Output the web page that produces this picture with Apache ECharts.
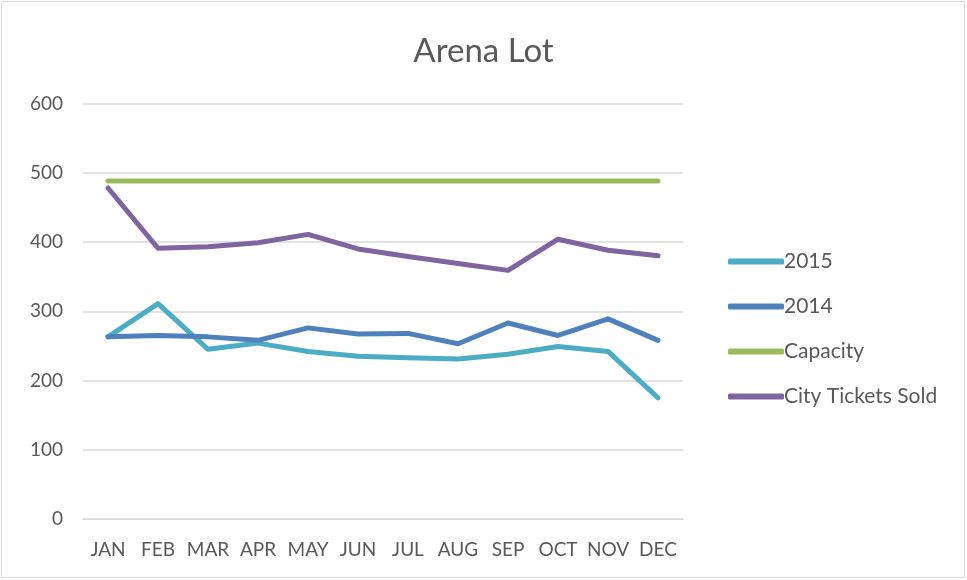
<!DOCTYPE html>
<html>
<head>
<meta charset="utf-8">
<script src="https://cdn.jsdelivr.net/npm/echarts@6/dist/echarts.min.js"></script>
<style>
  html, body { margin: 0; padding: 0; background: #fff; }
  #chart { width: 967px; height: 580px; }
</style>
</head>
<body>
<div id="chart"></div>
<script>
var months = ['JAN', 'FEB', 'MAR', 'APR', 'MAY', 'JUN', 'JUL', 'AUG', 'SEP', 'OCT', 'NOV', 'DEC'];
var sales2015 = [263, 311, 245, 254, 242, 235, 233, 231, 238, 249, 242, 175];
var sales2014 = [263, 265, 263, 258, 276, 267, 268, 253, 283, 265, 289, 258];
var capacity = [488, 488, 488, 488, 488, 488, 488, 488, 488, 488, 488, 488];
var cityTickets = [478, 391, 393, 399, 411, 390, 379, 369, 359, 404, 388, 380];

var chartDom = document.getElementById('chart');
var myChart = echarts.init(chartDom);
var font = 'Lato, "Liberation Sans", sans-serif';

function lineSeries(name, data, color) {
  return {
    name: name,
    type: 'line',
    data: data,
    symbol: 'none',
    lineStyle: { width: 5, color: color, cap: 'round', join: 'round' },
    itemStyle: { color: color }
  };
}

var option = {
  animation: false,
  textStyle: { fontFamily: font },
  title: {
    text: 'Arena Lot',
    left: 'center',
    top: 30,
    textStyle: { fontSize: 33, fontWeight: 'normal', color: '#595959', fontFamily: font }
  },
  graphic: [
    {
      type: 'rect',
      shape: { x: 1.5, y: 1.5, width: 963, height: 576 },
      style: { fill: 'none', stroke: '#d9d9d9', lineWidth: 1 }
    }
  ],
  legend: {
    orient: 'vertical',
    left: 723,
    top: 246,
    itemWidth: 56,
    itemHeight: 6,
    itemGap: 24,
    icon: 'roundRect',
    textStyle: { fontSize: 21, color: '#595959', fontFamily: font, padding: [0, 0, 0, -5] },
    data: ['2015', '2014', 'Capacity', 'City Tickets Sold']
  },
  grid: { left: 83, right: 284, top: 103.5, bottom: 61 },
  xAxis: {
    type: 'category',
    data: months,
    boundaryGap: true,
    axisLine: { show: true, lineStyle: { color: '#d9d9d9', width: 1 } },
    axisTick: { show: false },
    axisLabel: { interval: 0, fontSize: 19, color: '#595959', margin: 21, fontFamily: font }
  },
  yAxis: {
    type: 'value',
    min: 0,
    max: 600,
    interval: 100,
    axisLine: { show: false },
    axisTick: { show: false },
    splitLine: { lineStyle: { color: '#d9d9d9', width: 1.5 } },
    axisLabel: { fontSize: 19, color: '#595959', margin: 20, fontFamily: font }
  },
  series: [
    lineSeries('2015', sales2015, '#4bacc6'),
    lineSeries('2014', sales2014, '#4f81bd'),
    lineSeries('Capacity', capacity, '#9bbb59'),
    lineSeries('City Tickets Sold', cityTickets, '#8064a2')
  ]
};

myChart.setOption(option);
</script>
</body>
</html>
